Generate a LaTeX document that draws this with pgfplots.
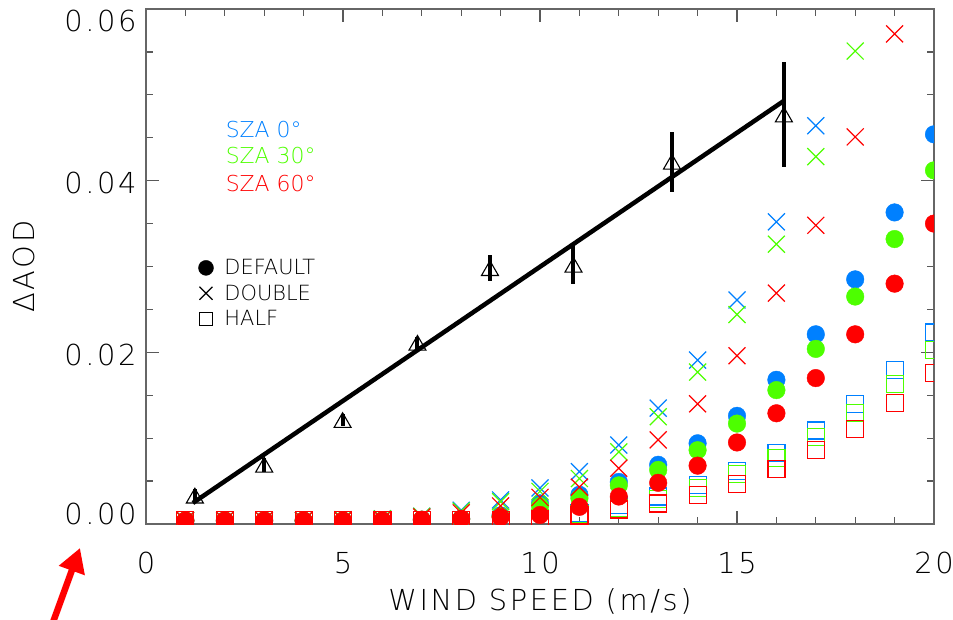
\documentclass[border=0pt]{standalone}
\usepackage{pgfplots}
\pgfplotsset{compat=1.18}
\usepackage{pgfplotstable}
\usepackage{fontspec}
\IfFontExistsTF{DejaVu Sans ExtraLight}{%
  \setmainfont{DejaVu Sans ExtraLight}%
  \newfontfamily\widefont{DejaVu Sans ExtraLight}[LetterSpace=9]}{%
  \setmainfont{DejaVu Sans}%
  \newfontfamily\widefont{DejaVu Sans}[LetterSpace=9]}
\usetikzlibrary{arrows.meta}
\definecolor{szablue}{RGB}{0,128,255}
\definecolor{szagreen}{RGB}{77,255,0}
\definecolor{szared}{RGB}{255,0,0}
\pgfplotsset{mylegimg/.style={legend image code/.code={\draw[##1] plot coordinates {(0bp,0bp)};}}}

% model: d = DEFAULT, x = DOUBLE, h = HALF; b/g/r = SZA 0/30/60
\pgfplotstableread{
x  bd      gd      rd      bx      gx      rx      bh      gh      rh
1  0.0004  0.0004  0.0004  0.0004  0.0004  0.0004  0.0005  0.0005  0.0005
2  0.0004  0.0004  0.0004  0.0004  0.0004  0.0004  0.0005  0.0005  0.0005
3  0.0004  0.0004  0.0004  0.0004  0.0004  0.0004  0.0005  0.0005  0.0005
4  0.0004  0.0004  0.0004  0.0004  0.0004  0.0004  0.0005  0.0005  0.0005
5  0.0004  0.0004  0.0004  0.0005  0.0005  0.0004  0.0005  0.0005  0.0005
6  0.0004  0.0004  0.0004  0.0006  0.0006  0.0005  0.0005  0.0005  0.0005
7  0.0005  0.0005  0.0005  0.0009  0.0009  0.0008  0.0005  0.0005  0.0005
8  0.0006  0.0006  0.0006  0.0016  0.0015  0.0013  0.0005  0.0005  0.0005
9  0.0010  0.0009  0.0008  0.0028  0.0026  0.0021  0.0005  0.0005  0.0005
10 0.0024  0.0021  0.00105 0.0042  0.0038  0.0031  0.0007  0.0007  0.0006
11 0.0034  0.0030  0.0020  0.0061  0.0053  0.0043  0.0013  0.0012  0.0010
12 0.0049  0.0045  0.0032  0.0092  0.0084  0.0065  0.0022  0.0019  0.0017
13 0.0069  0.0063  0.0048  0.0135  0.0125  0.0098  0.0032  0.0029  0.0024
14 0.0094  0.0086  0.0068  0.0191  0.0177  0.0140  0.0045  0.0042  0.0034
15 0.0126  0.0117  0.0095  0.0261  0.0244  0.0196  0.0062  0.0058  0.0047
16 0.0168  0.0156  0.0129  0.0352  0.0326  0.0269  0.0083  0.0077  0.0064
17 0.0221  0.0204  0.0170  0.0464  0.0428  0.0348  0.0109  0.0101  0.0086
18 0.0285  0.0265  0.0221  0.0601  0.0551  0.0451  0.0140  0.0129  0.0111
19 0.0363  0.0332  0.0280  nan     nan     0.0571  0.0179  0.0163  0.0141
20 0.0454  0.0412  0.0350  nan     nan     nan     0.0223  0.0203  0.0176
}\modeldata

% observations with error bars
\pgfplotstableread{
x      y       e
1.24   0.0033  0.0008
3.00   0.0069  0.0008
4.99   0.0121  0.0007
6.89   0.0211  0.0007
8.73   0.0298  0.0015
10.85  0.0302  0.0022
13.35  0.0422  0.0035
16.19  0.0477  0.0061
}\obsdata

% linear fit
\pgfplotstableread{
x      y
1.19   0.00245
16.19  0.0493
}\fitdata

\begin{document}
\begin{tikzpicture}
\begin{axis}[
  scale only axis, width=788bp, height=515bp,
  xmin=0, xmax=20, ymin=0, ymax=0.06,
  xtick={0,5,10,15,20}, minor x tick num=4,
  ytick={0,0.02,0.04,0.06}, minor y tick num=3,
  tick align=inside, major tick length=13bp, minor tick length=7bp,
  axis line style={black!60, line width=1.3bp},
  every tick/.style={black!65, line width=1.2bp},
  clip marker paths=true,
  unbounded coords=discard,
  scaled y ticks=false,
  /pgf/number format/assume math mode=true,
  tick label style={font=\widefont\fontsize{29}{34}\selectfont, text=black},
  xticklabel style={yshift=-25bp},
  yticklabel style={/pgf/number format/fixed, /pgf/number format/fixed zerofill, /pgf/number format/precision=2,
     /utils/exec={\ifcase\ticknum\gdef\myys{10bp}\or\gdef\myys{-2.5bp}\or\gdef\myys{-2.5bp}\else\gdef\myys{-12bp}\fi},
     yshift=\myys, xshift=-6bp},
  label style={font=\widefont\fontsize{29}{34}\selectfont, text=black},
  xlabel={WIND SPEED (m/s)},
  xlabel style={at={(axis description cs:0.5,-0.167)}, anchor=base},
  ylabel={ΔAOD},
  ylabel style={at={(axis description cs:-0.141,0.5)}, anchor=base},
  legend cell align=left,
  legend style={draw=none, fill=none, inner sep=0pt, outer sep=0pt,
     at={(axis description cs:0.0666,0.5136)}, anchor=north west,
     row sep=8.5bp, column sep=11bp,
     nodes={inner sep=0pt, font=\fontsize{21}{25}\selectfont, text=black}},
]
% legend images
\addlegendimage{only marks, mark=*, black, mark size=7.5bp, mylegimg}
\addlegendentry{DEFAULT}
\addlegendimage{only marks, mark=x, black, mark size=9.2bp, line width=1.1bp, mylegimg}
\addlegendentry{DOUBLE}
\addlegendimage{only marks, mark=square, black, mark size=6.5bp, line width=1.1bp, mylegimg}
\addlegendentry{HALF}

% observations
\addplot[forget plot, only marks, mark=triangle, mark size=9.8bp,
  mark options={black, line width=1.1bp, yshift=-2.4bp},
  error bars/.cd, y dir=both, y explicit, error mark=none,
  error bar style={line width=4bp, black}]
  table[x=x, y=y, y error=e] {\obsdata};
\addplot[forget plot, black, line width=4.5bp, no marks] table[x=x, y=y] {\fitdata};

% SZA 0
\addplot[forget plot, only marks, mark=*, mark size=8.8bp, szablue, mark options={draw=none, fill=szablue}] table[x=x, y=bd] {\modeldata};
\addplot[forget plot, only marks, mark=x, mark size=12bp, szablue, line width=1.2bp] table[x=x, y=bx] {\modeldata};
\addplot[forget plot, only marks, mark=square, mark size=8.5bp, szablue, line width=1.2bp] table[x=x, y=bh] {\modeldata};
% SZA 30
\addplot[forget plot, only marks, mark=*, mark size=8.8bp, szagreen, mark options={draw=none, fill=szagreen}] table[x=x, y=gd] {\modeldata};
\addplot[forget plot, only marks, mark=x, mark size=12bp, szagreen, line width=1.2bp] table[x=x, y=gx] {\modeldata};
\addplot[forget plot, only marks, mark=square, mark size=8.5bp, szagreen, line width=1.2bp] table[x=x, y=gh] {\modeldata};
% SZA 60
\addplot[forget plot, only marks, mark=*, mark size=8.8bp, szared, mark options={draw=none, fill=szared}] table[x=x, y=rd] {\modeldata};
\addplot[forget plot, only marks, mark=x, mark size=12bp, szared, line width=1.2bp] table[x=x, y=rx] {\modeldata};
\addplot[forget plot, only marks, mark=square, mark size=8.5bp, szared, line width=1.2bp] table[x=x, y=rh] {\modeldata};

\node[anchor=west, inner sep=0pt, text=szablue, font=\fontsize{22}{26}\selectfont] at (axis description cs:0.101,0.765) {SZA 0°};
\node[anchor=west, inner sep=0pt, text=szagreen, font=\fontsize{22}{26}\selectfont] at (axis description cs:0.101,0.7146) {SZA 30°};
\node[anchor=west, inner sep=0pt, text=szared, font=\fontsize{22}{26}\selectfont] at (axis description cs:0.101,0.662) {SZA 60°};
\end{axis}
\draw[szared, line width=6.5bp, -{Triangle[length=24bp,width=26bp]}] (-98bp,-112bp) -- (-66bp,-24bp);
\pgfresetboundingbox
\path[use as bounding box] (-146bp,-96bp) rectangle (807bp,524bp);
\end{tikzpicture}
\end{document}
